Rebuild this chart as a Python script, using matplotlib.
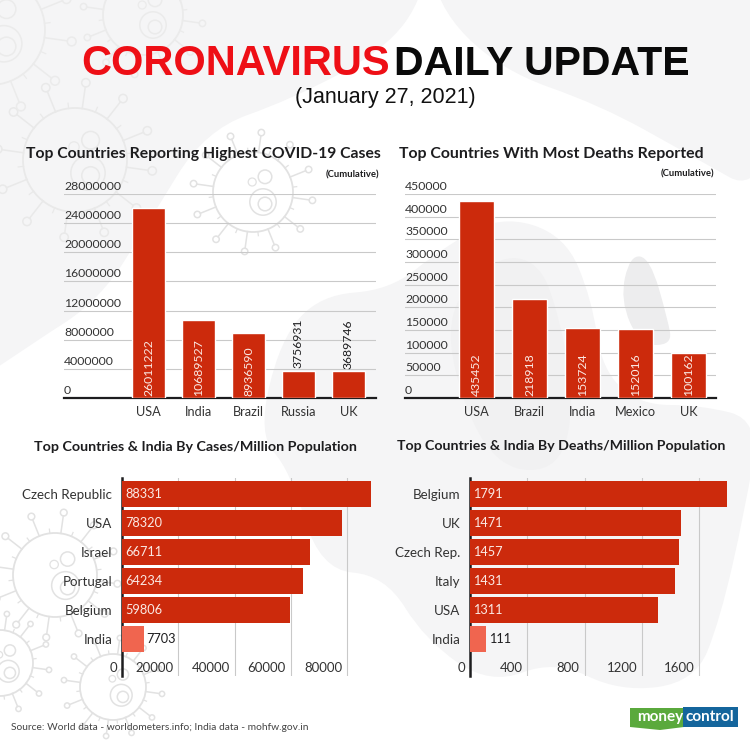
import numpy as np
import matplotlib
matplotlib.use('Agg')
import matplotlib.pyplot as plt
from matplotlib.patches import Circle, PathPatch, Polygon, Rectangle
from matplotlib.path import Path
from matplotlib.transforms import ScaledTranslation

plt.rcParams['font.family'] = ['Lato', 'DejaVu Sans']

# data
cases_countries = ['USA', 'India', 'Brazil', 'Russia', 'UK']
cases_values = [26011222, 10689527, 8936590, 3756931, 3689746]
cases_ticks = [0, 4000000, 8000000, 12000000, 16000000, 20000000, 24000000, 28000000]

deaths_countries = ['USA', 'Brazil', 'India', 'Mexico', 'UK']
deaths_values = [435452, 218918, 153724, 152016, 100162]
deaths_ticks = [0, 50000, 100000, 150000, 200000, 250000, 300000, 350000, 400000, 450000]

cases_m_countries = ['Czech Republic', 'USA', 'Israel', 'Portugal', 'Belgium', 'India']
cases_m_values = [88331, 78320, 66711, 64234, 59806, 7703]
cases_m_ticks = [0, 20000, 40000, 60000, 80000]

deaths_m_countries = ['Belgium', 'UK', 'Czech Rep.', 'Italy', 'USA', 'India']
deaths_m_values = [1791, 1471, 1457, 1431, 1311, 111]
deaths_m_ticks = [0, 400, 800, 1200, 1600]

RED = '#cc2a0c'
LIGHT_RED = '#f0654f'
GRID = '#c9c9c9'
DARK = '#1d1d1f'
TEXT = '#333333'
W = 750


def px_axes(fig, left, top, right, bottom, **kw):
    """axes from pixel box, y measured from the top"""
    return fig.add_axes([left / W, 1 - bottom / W, (right - left) / W, (bottom - top) / W], **kw)


def blob(bg, pts, color):
    """smooth closed shape through midpoints of the given control points"""
    pts = np.array(pts, dtype=float)
    mids = (pts + np.roll(pts, -1, axis=0)) / 2
    verts = [mids[-1]]
    codes = [Path.MOVETO]
    for p, m in zip(pts, mids):
        verts += [p, m]
        codes += [Path.CURVE3, Path.CURVE3]
    bg.add_patch(PathPatch(Path(verts, codes), fc=color, ec='none'))


def draw_virus(bg, cx, cy, r, col='#e2e2e2'):
    """line art virus used as backdrop"""
    bg.add_patch(Circle((cx, cy), r, fill=False, ec=col, lw=1.3))
    bg.add_patch(Circle((cx + r * 0.25, cy + r * 0.25), r * 0.33, fill=False, ec=col, lw=1.1))
    bg.add_patch(Circle((cx + r * 0.3, cy + r * 0.3), r * 0.17, fill=False, ec=col, lw=1.1))
    bg.add_patch(Circle((cx + r * 0.3, cy - r * 0.38), r * 0.17, fill=False, ec=col, lw=1.1))
    bg.add_patch(Circle((cx - r * 0.02, cy - r * 0.25), r * 0.1, fill=False, ec=col, lw=0.9))
    for a in np.arange(0, 360, 30):
        t = np.deg2rad(a + 8)
        bg.plot([cx + r * np.cos(t), cx + r * 1.42 * np.cos(t)],
                [cy + r * np.sin(t), cy + r * 1.42 * np.sin(t)], color=col, lw=1.1)
        bg.add_patch(Circle((cx + r * 1.5 * np.cos(t), cy + r * 1.5 * np.sin(t)), r * 0.08,
                            fill=False, ec=col, lw=1.1))
        t = np.deg2rad(a + 23)
        bg.plot([cx + r * np.cos(t), cx + r * 1.1 * np.cos(t)],
                [cy + r * np.sin(t), cy + r * 1.1 * np.sin(t)], color=col, lw=0.9)


def style_vbar(ax, names, values, ticks, ymax, xlim):
    x = np.arange(len(names))
    ax.set_facecolor('none')
    ax.set_axisbelow(True)
    ax.yaxis.grid(True, color=GRID, lw=0.8)
    ax.bar(x, values, width=0.65, color=RED, edgecolor='white', linewidth=1.0, zorder=3)
    ax.set_xlim(*xlim)
    ax.set_ylim(0, ymax)
    ax.set_xticks(x, names)
    ax.set_yticks(ticks, [str(t) for t in ticks])
    ax.tick_params(axis='x', length=0, labelsize=9.2, labelcolor=TEXT, pad=6)
    ax.tick_params(axis='y', length=0, labelsize=8.8, labelcolor=TEXT, pad=0)
    shift = ScaledTranslation(0, 2 / 100, ax.figure.dpi_scale_trans)
    for lab in ax.get_yticklabels():
        lab.set_ha('left')
        lab.set_va('bottom')
        lab.set_transform(lab.get_transform() + shift)
    for s in ['top', 'right', 'left']:
        ax.spines[s].set_visible(False)
    ax.spines['bottom'].set_linewidth(1.6)
    ax.spines['bottom'].set_color(DARK)
    for xi, v in zip(x, values):
        if v > ymax * 0.15:
            ax.text(xi, ymax * 0.012, str(v), rotation=90, ha='center', va='bottom',
                    color='#fbe9e4', fontsize=8.8, zorder=4)
        else:
            ax.text(xi, v + ymax * 0.012, str(v), rotation=90, ha='center', va='bottom',
                    color=DARK, fontsize=8.8, zorder=4)


def style_hbar(ax, names, values, ticks, xmax):
    y = np.arange(len(names))
    ax.set_facecolor('none')
    ax.set_axisbelow(True)
    ax.xaxis.grid(True, color=GRID, lw=0.8)
    colors = [RED] * (len(names) - 1) + [LIGHT_RED]
    ax.barh(y, values, height=0.9, color=colors, zorder=3)
    ax.set_ylim(6.28, -0.55)
    ax.set_xlim(0, xmax)
    ax.set_yticks(y, names)
    ax.set_xticks(ticks, [str(t) for t in ticks])
    ax.tick_params(axis='y', length=0, labelsize=9.6, labelcolor=TEXT, pad=7)
    # tick labels sit inside the plot, just left of each grid line
    ax.tick_params(axis='x', length=0, labelsize=9.5, labelcolor=TEXT, pad=-10)
    shift = ScaledTranslation(-5 / 100, 0, ax.figure.dpi_scale_trans)
    for lab in ax.get_xticklabels():
        lab.set_ha('right')
        lab.set_transform(lab.get_transform() + shift)
    for s in ['top', 'right', 'bottom']:
        ax.spines[s].set_visible(False)
    ax.spines['left'].set_linewidth(1.8)
    ax.spines['left'].set_color(DARK)
    for yi, v, c in zip(y, values, colors):
        if c == RED:
            ax.text(xmax * 0.012, yi, str(v), va='center', ha='left', color='#fbe9e4', fontsize=9.2, zorder=4)
        else:
            ax.text(v + xmax * 0.012, yi, str(v), va='center', ha='left', color=DARK, fontsize=9.2, zorder=4)


fig = plt.figure(figsize=(7.5, 7.5), dpi=100, facecolor='white')

# backdrop in pixel coordinates
bg = fig.add_axes([0, 0, 1, 1], zorder=0)
bg.set_xlim(0, W)
bg.set_ylim(W, 0)
bg.axis('off')
PALE = '#f5f5f6'
blob(bg, [(-80, -80), (430, -80), (425, -5), (385, 50), (290, 100), (205, 130), (150, 220), (100, 300),
          (30, 345), (-80, 420)], PALE)
blob(bg, [(425, -80), (435, 5), (500, 70), (600, 105), (690, 155), (770, 200), (830, -80)], PALE)
blob(bg, [(258, 435), (280, 340), (320, 295), (390, 290), (440, 250), (500, 215), (565, 235), (592, 300),
          (602, 370), (640, 405), (700, 405), (760, 420), (745, 510), (720, 620), (695, 682), (620, 692),
          (555, 660), (490, 685), (425, 640), (385, 575), (320, 570), (290, 470)], PALE)
blob(bg, [(497, 255), (540, 262), (560, 320), (575, 400), (560, 470), (500, 470), (460, 400), (445, 310)], '#f1f1f2')
blob(bg, [(630, 255), (650, 258), (668, 320), (672, 345), (640, 345), (620, 300)], '#ededee')
draw_virus(bg, 253, 192, 40)
draw_virus(bg, 75, 160, 52, col='#e9e9e9')
draw_virus(bg, -10, 30, 55, col='#ebebeb')
draw_virus(bg, 143, 15, 40, col='#ebebeb')
draw_virus(bg, 55, 575, 42)
draw_virus(bg, 113, 687, 33)
draw_virus(bg, 0, 663, 33)

# four charts, boxes
ax1 = px_axes(fig, 64, 194, 376, 398, zorder=2)
style_vbar(ax1, cases_countries, cases_values, cases_ticks, 28000000, (-1.69, 4.55))
ax2 = px_axes(fig, 405, 194, 716, 398, zorder=2)
style_vbar(ax2, deaths_countries, deaths_values, deaths_ticks, 450000, (-1.349, 4.519))
ax3 = px_axes(fig, 122, 478, 372, 676, zorder=2)
style_hbar(ax3, cases_m_countries, cases_m_values, cases_m_ticks, 88800)
ax4 = px_axes(fig, 470, 478, 728, 676, zorder=2)
style_hbar(ax4, deaths_m_countries, deaths_m_values, deaths_m_ticks, 1800)


# titles and captions
def put(x, y, s, **kw):
    fig.text(x / W, 1 - y / W, s, **kw)


HEAD = ['Liberation Sans', 'DejaVu Sans']
put(81, 64, 'CORONAVIRUS', fontsize=30, fontweight='bold', color='#ee0f16', family=HEAD, va='center')
put(394, 64, 'DAILY UPDATE', fontsize=29.5, fontweight='bold', color='#0a0a0a', family=HEAD, va='center')
put(385, 97, '(January 27, 2021)', fontsize=15.5, color='#111111', family=HEAD, ha='center', va='center')
put(26, 154, 'Top Countries Reporting Highest COVID-19 Cases', fontsize=11.35, fontweight='bold', color=DARK, va='center')
put(399, 154, 'Top Countries With Most Deaths Reported', fontsize=11.4, fontweight='bold', color=DARK, va='center')
put(379, 175, '(Cumulative)', fontsize=6.8, fontweight='bold', color=DARK, ha='right', va='center')
put(714, 174, '(Cumulative)', fontsize=6.8, fontweight='bold', color=DARK, ha='right', va='center')
put(34, 447, 'Top Countries & India By Cases/Million Population', fontsize=10.25, fontweight='bold', color=DARK, va='center')
put(397, 446, 'Top Countries & India By Deaths/Million Population', fontsize=10.2, fontweight='bold', color=DARK, va='center')
put(11, 727, 'Source: World data - worldometers.info; India data - mohfw.gov.in', fontsize=7.4, color='#444444', va='center')

# moneycontrol logo
bg.add_patch(Polygon([(630, 708), (684, 708), (684, 727), (660, 730), (630, 727)], closed=True, fc='#5aa93c', ec='none'))
bg.add_patch(Rectangle((683, 707), 55, 20, fc='#14659c', ec='none'))
put(683, 717, 'money', fontsize=11, fontweight='bold', color='white', ha='right', va='center', zorder=5)
put(685, 717, 'control', fontsize=11, fontweight='bold', color='white', ha='left', va='center', zorder=5)

fig.savefig('out.png', dpi=100)
